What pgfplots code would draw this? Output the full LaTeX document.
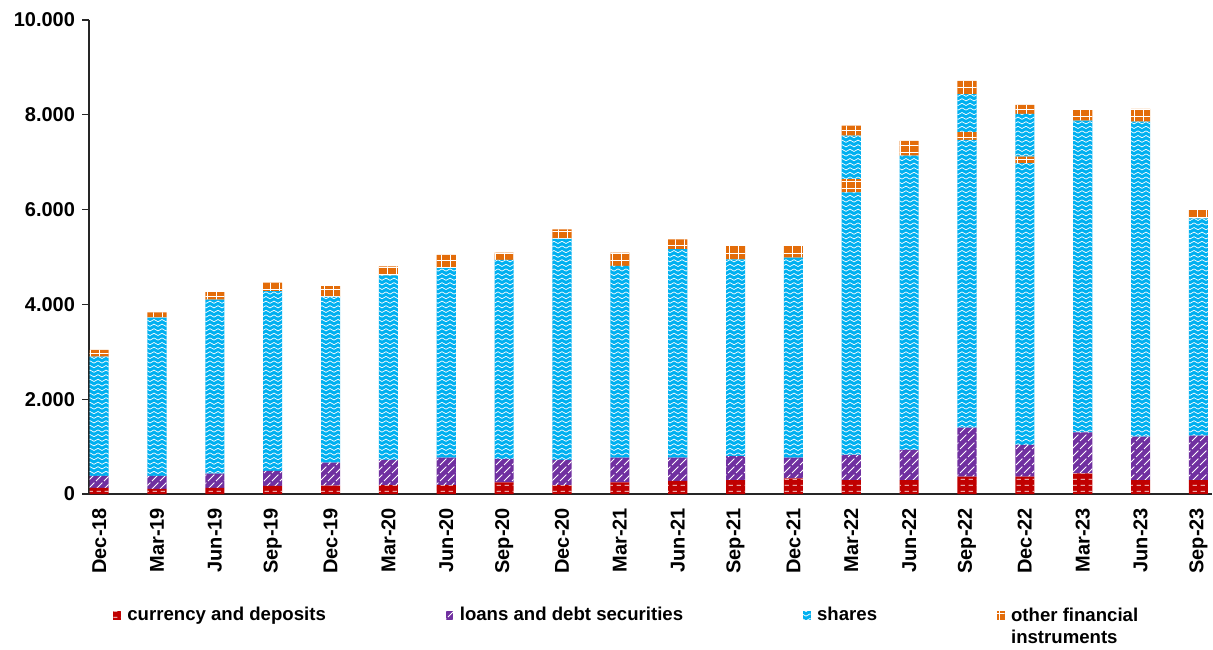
\documentclass[border=0pt]{standalone}
\usepackage{fontspec}
\setmainfont{Liberation Sans}
\usepackage{pgfplots}
\pgfplotsset{compat=1.18}
\usepackage{pgfplotstable}
\usetikzlibrary{patterns}

\definecolor{cRed}{HTML}{C00000}
\definecolor{cPurple}{HTML}{7030A0}
\definecolor{cBlue}{HTML}{00B0F0}
\definecolor{cOrange}{HTML}{E36C09}

% white dashed horizontal lines (currency)
\pgfdeclarepatternformonly{dashh}{\pgfqpoint{0pt}{0pt}}{\pgfqpoint{4pt}{3pt}}{\pgfqpoint{4pt}{3pt}}{%
  \pgfsetlinewidth{0.45pt}%
  \pgfpathmoveto{\pgfqpoint{0.4pt}{1.5pt}}\pgfpathlineto{\pgfqpoint{2.8pt}{1.5pt}}%
  \pgfusepath{stroke}}
% diagonal lines (loans)
\pgfdeclarepatternformonly{diagl}{\pgfqpoint{-0.5pt}{-0.5pt}}{\pgfqpoint{4.5pt}{4.5pt}}{\pgfqpoint{4pt}{4pt}}{%
  \pgfsetlinewidth{0.45pt}%
  \pgfpathmoveto{\pgfqpoint{0pt}{0pt}}\pgfpathlineto{\pgfqpoint{3.2pt}{3.2pt}}%
  \pgfusepath{stroke}}
% waves (shares)
\pgfdeclarepatternformonly{waves}{\pgfqpoint{0pt}{-0.5pt}}{\pgfqpoint{4pt}{2.5pt}}{\pgfqpoint{4pt}{2.3pt}}{%
  \pgfsetlinewidth{0.35pt}%
  \pgfpathmoveto{\pgfqpoint{0pt}{0.9pt}}%
  \pgfpathsine{\pgfqpoint{1pt}{0.55pt}}%
  \pgfpathcosine{\pgfqpoint{1pt}{-0.55pt}}%
  \pgfpathsine{\pgfqpoint{1pt}{-0.55pt}}%
  \pgfpathcosine{\pgfqpoint{1pt}{0.55pt}}%
  \pgfusepath{stroke}}
% grid (other)
\pgfdeclarepatternformonly{gridp}{\pgfqpoint{-0.5pt}{-0.5pt}}{\pgfqpoint{4.5pt}{4pt}}{\pgfqpoint{4.5pt}{3.6pt}}{%
  \pgfsetlinewidth{0.45pt}%
  \pgfpathmoveto{\pgfqpoint{0pt}{0pt}}\pgfpathlineto{\pgfqpoint{4.5pt}{0pt}}%
  \pgfpathmoveto{\pgfqpoint{0pt}{0pt}}\pgfpathlineto{\pgfqpoint{0pt}{3.6pt}}%
  \pgfusepath{stroke}}

\pgfplotstableread{
x      cur  loan  shA   othA shB othB
0.175  130  250   2520  0    0   140
1.175  110  270   3340  0    0   110
2.175  130  300   3670  0    0   160
3.175  170  320   3790  0    0   180
4.175  175  485   3500  0    0   225
5.175  190  530   3890  0    0   190
6.175  190  575   4000  0    0   280
7.175  245  495   4200  0    0   155
8.175  190  530   4660  0    0   205
9.175  245  520   4050  0    0   275
10.175 275  490   4400  0    0   205
11.175 295  505   4150  0    0   280
12.175 330  435   4220  0    0   245
13.175 295  530   5540  280  915 210
14.175 295  635   6210  0    0   310
15.175 365  1035  6070  165  800 280
16.175 365  670   5945  140  900 190
17.175 435  865   6575  0    0   225
18.175 295  915   6645  0    0   270
19.175 295  935   4585  0    0   175
}\data

\begin{document}
\begin{tikzpicture}
\begin{axis}[
  scale only axis, width=561.5pt, height=237pt,
  xmin=0, xmax=19.41, ymin=0, ymax=10000,
  axis lines=left, axis line style={-, line width=0.6pt, black!85},
  ybar stacked, bar width=0.33,
  tick align=outside,
  tick style={black!85, line width=0.6pt},
  scaled y ticks=false,
  ytick={0,2000,4000,6000,8000,10000},
  yticklabels={0,2.000,4.000,6.000,8.000,10.000},
  major tick length=3.5pt,
  yticklabel style={font=\bfseries\fontsize{10}{12}\selectfont},
  xtick={0.175,1.175,2.175,3.175,4.175,5.175,6.175,7.175,8.175,9.175,10.175,11.175,12.175,13.175,14.175,15.175,16.175,17.175,18.175,19.175},
  xticklabels={Dec-18,Mar-19,Jun-19,Sep-19,Dec-19,Mar-20,Jun-20,Sep-20,Dec-20,Mar-21,Jun-21,Sep-21,Dec-21,Mar-22,Jun-22,Sep-22,Dec-22,Mar-23,Jun-23,Sep-23},
  xtick style={draw=none},
  xticklabel style={rotate=90, anchor=east, font=\bfseries\fontsize{10}{12}\selectfont},
  extra x ticks={0,1,2,3,4,5,6,7,8,9,10,11,12,13,14,15,16,17,18,19},
  extra x tick labels={},
  extra x tick style={tick style={draw=black!85, line width=0.6pt}},
  clip=false,
  legend columns=4,
  legend cell align=left,
  legend image code/.code={\fill[#1] (0pt,-2pt) rectangle (3.8pt,2.2pt); \path (5pt,0pt);},
  legend style={draw=none, fill=none, at={(0,0)}, anchor=north west,
    xshift=9pt, yshift=-52pt,
    font=\bfseries\fontsize{9.3}{11}\selectfont,
    /tikz/every even column/.append style={column sep=58pt}},
]
\coordinate (bl) at (rel axis cs:0,0);
\addplot[fill=cRed, draw=none, postaction={pattern=dashh, pattern color=white}] table[x=x,y=cur]{\data};
\addplot[fill=cPurple, draw=none, postaction={pattern=diagl, pattern color=white}] table[x=x,y=loan]{\data};
\addplot[fill=cBlue, draw=none, postaction={pattern=waves, pattern color=white}] table[x=x,y=shA]{\data};
\addplot[fill=cOrange, draw=none, postaction={pattern=gridp, pattern color=white}] table[x=x,y=othA]{\data};
\addplot[fill=cBlue, draw=none, postaction={pattern=waves, pattern color=white}] table[x=x,y=shB]{\data};
\addplot[fill=cOrange, draw=none, postaction={pattern=gridp, pattern color=white}] table[x=x,y=othB]{\data};
\legend{currency and deposits, loans and debt securities, shares, , , {\raisebox{0pt}[\height][0pt]{\begin{tabular}[t]{@{}l@{}}other financial\\instruments\end{tabular}}}}
\end{axis}
\pgfresetboundingbox
\path (bl) ++(-44.5pt,-77.5pt) rectangle ++(606.5pt,324.5pt);
\end{tikzpicture}
\end{document}
